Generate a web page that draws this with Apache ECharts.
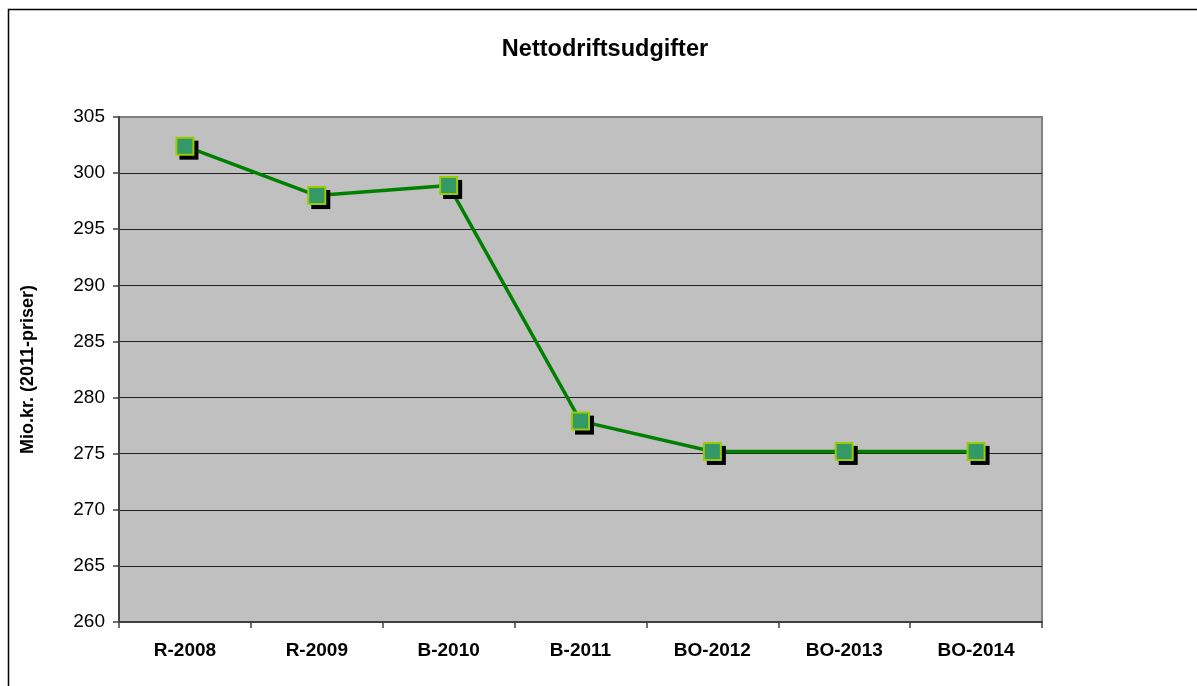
<!DOCTYPE html>
<html>
<head>
<meta charset="utf-8">
<title>Nettodriftsudgifter</title>
<script src="https://cdn.jsdelivr.net/npm/echarts@6/dist/echarts.min.js"></script>
<style>
  html, body { margin: 0; padding: 0; background: #fff; }
  #chart { width: 1197px; height: 686px; }
</style>
</head>
<body>
<div id="chart"></div>
<script>
// kategorier (x-akse)
const categories = ['R-2008', 'R-2009', 'B-2010', 'B-2011', 'BO-2012', 'BO-2013', 'BO-2014']
// nettodriftsudgifter, mio. kr. (2011-priser)
const values = [302.4, 298.0, 298.9, 277.9, 275.2, 275.2, 275.2]

const chart = echarts.init(document.getElementById('chart'))

const font = 'Arial, "Liberation Sans", sans-serif'

chart.setOption({
  animation: false,
  backgroundColor: '#fff',
  title: {
    text: 'Nettodriftsudgifter',
    left: 600,
    textAlign: 'center',
    top: 33,
    textStyle: { fontFamily: font, fontSize: 23.5, fontWeight: 'bold', color: '#000' }
  },
  // ramme om hele diagrammet
  graphic: [
    {
      type: 'rect',
      shape: { x: 8.5, y: 9.5, width: 1300, height: 800 },
      style: { fill: 'none', stroke: '#000', lineWidth: 1.5 },
      silent: true
    }
  ],
  grid: {
    left: 119,
    top: 117,
    width: 923,
    height: 505,
    show: true,
    backgroundColor: '#c0c0c0',
    borderColor: '#808080',
    borderWidth: 2
  },
  xAxis: {
    type: 'category',
    data: categories,
    boundaryGap: true,
    axisLine: { show: true, lineStyle: { color: '#404040', width: 2 } },
    axisTick: { show: true, length: 6, lineStyle: { color: '#404040', width: 1.5 } },
    axisLabel: {
      margin: 19,
      fontFamily: font,
      fontSize: 19,
      fontWeight: 'bold',
      color: '#000'
    },
    splitLine: { show: false }
  },
  yAxis: {
    type: 'value',
    min: 260,
    max: 305,
    interval: 5,
    name: 'Mio.kr. (2011-priser)',
    nameLocation: 'middle',
    nameRotate: 90,
    nameGap: 82,
    nameTextStyle: { fontFamily: font, fontSize: 18, fontWeight: 'bold', color: '#000' },
    axisLine: { show: true, lineStyle: { color: '#404040', width: 2 } },
    axisTick: { show: true, length: 6, lineStyle: { color: '#404040', width: 1.5 } },
    axisLabel: { margin: 14, fontFamily: font, fontSize: 19, color: '#000' },
    splitLine: {
      show: true,
      lineStyle: {
        color: ['#404040', '#202020', '#202020', '#202020', '#202020', '#202020', '#202020', '#202020', '#202020', '#808080'],
        width: 1.2
      }
    }
  },
  series: [
    // linjen
    {
      type: 'line',
      data: values,
      symbol: 'none',
      lineStyle: { color: '#008000', width: 3.5 },
      emphasis: { disabled: true },
      z: 2
    },
    // skygge under markørerne
    {
      type: 'line',
      data: values,
      symbol: 'rect',
      symbolSize: 19,
      symbolOffset: [4, 4],
      showAllSymbol: true,
      lineStyle: { width: 0, opacity: 0 },
      itemStyle: { color: '#000', borderWidth: 0 },
      emphasis: { disabled: true },
      z: 3
    },
    // markører
    {
      type: 'line',
      data: values,
      symbol: 'rect',
      symbolSize: 17,
      showAllSymbol: true,
      lineStyle: { width: 0, opacity: 0 },
      itemStyle: {
        color: '#339966',
        borderColor: '#99cc00',
        borderWidth: 2
      },
      emphasis: { disabled: true },
      z: 4
    }
  ]
})
</script>
</body>
</html>
